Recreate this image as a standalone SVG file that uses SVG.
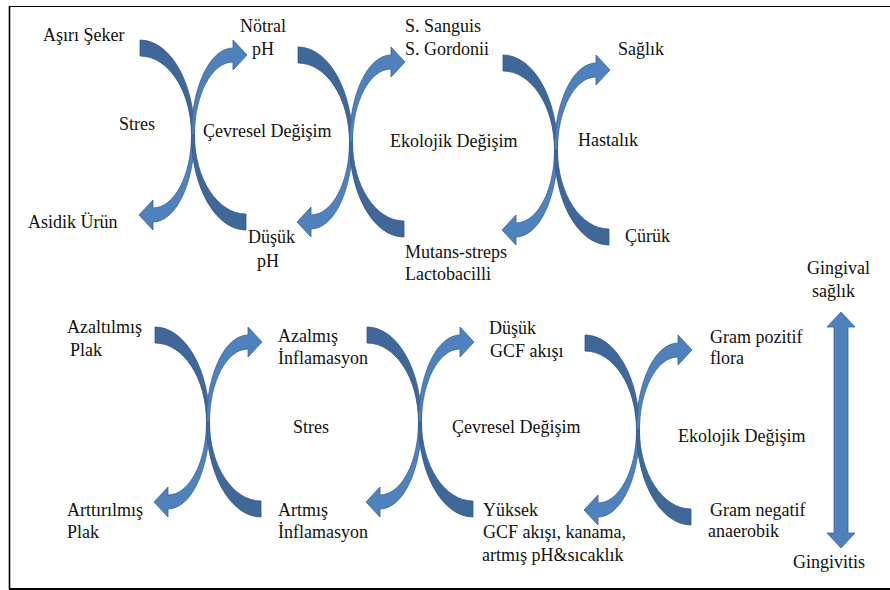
<svg xmlns="http://www.w3.org/2000/svg" xmlns:xlink="http://www.w3.org/1999/xlink" width="890" height="590" viewBox="0 0 890 590">
<style>
text{font-family:'Liberation Serif','DejaVu Serif',serif;font-size:18px;fill:#111}
.dk{fill:#3f6899;stroke:#36598a;stroke-width:0.8}
.lt{fill:#4f81bd;stroke:#3a6295;stroke-width:0.8}
.frame{stroke:#000;fill:none}
</style>
<defs>
<g id="half">
<path class="dk" d="M -53,-95 C -22.9,-95 1.5,-52.5 1.5,0 L -1.5,0 C -1.5,-43.6 -24.6,-79 -53,-79 Z"/>
<path class="lt" d="M 1.5,0 C 1.5,48 -17.1,87 -40,87 L -40,95 L -54,80 L -40,65 L -40,73 C -18.7,73 -1.5,40.3 -1.5,0 Z"/>
</g>
<g id="cross">
<use xlink:href="#half"/>
<use xlink:href="#half" transform="rotate(180)"/>
</g>
</defs>
<rect width="890" height="590" fill="#fff"/>
<g id="frame">
<line class="frame" x1="9" y1="6.5" x2="890" y2="6.5" stroke-width="1.2"/>
<line class="frame" x1="9.5" y1="6" x2="9.5" y2="590" stroke-width="1.6"/>
<line class="frame" x1="9" y1="589" x2="890" y2="589" stroke-width="2"/>
</g>
<g id="connectors">
<use xlink:href="#cross" transform="translate(193,135)"/>
<use xlink:href="#cross" transform="translate(351,142)"/>
<use xlink:href="#cross" transform="translate(556,150)"/>
<use xlink:href="#cross" transform="translate(208,422)"/>
<use xlink:href="#cross" transform="translate(420,422)"/>
<use xlink:href="#cross" transform="translate(638,430)"/>
<path id="double-arrow" class="lt" d="M 841,312 L 855,327 L 848,327 L 848,533 L 855,533 L 841,548 L 827,533 L 834,533 L 834,327 L 827,327 Z"/>
</g>
<g font-family="Liberation Serif, serif">
<g id="n-asiri-seker"><text x="43" y="41">Aşırı Şeker</text></g>
<g id="n-notral-ph"><text x="240" y="32">Nötral</text><text x="252" y="55">pH</text></g>
<g id="n-sanguis"><text x="405" y="32">S. Sanguis</text><text x="405" y="55">S. Gordonii</text></g>
<g id="n-saglik"><text x="618" y="55">Sağlık</text></g>
<g id="n-stres-1"><text x="119" y="130">Stres</text></g>
<g id="n-cevresel-1"><text x="203" y="137">Çevresel Değişim</text></g>
<g id="n-ekolojik-1"><text x="390" y="147">Ekolojik Değişim</text></g>
<g id="n-hastalik"><text x="578" y="146">Hastalık</text></g>
<g id="n-asidik"><text x="28" y="228">Asidik Ürün</text></g>
<g id="n-dusuk-ph"><text x="248" y="243">Düşük</text><text x="257" y="267">pH</text></g>
<g id="n-mutans"><text x="405" y="258">Mutans-streps</text><text x="405" y="280">Lactobacilli</text></g>
<g id="n-curuk"><text x="625" y="242">Çürük</text></g>
<g id="n-gingival"><text x="807" y="274">Gingival</text><text x="812" y="297">sağlık</text></g>
<g id="n-azaltilmis"><text x="67" y="333">Azaltılmış</text><text x="70" y="356">Plak</text></g>
<g id="n-azalmis"><text x="278" y="342">Azalmış</text><text x="278" y="364">İnflamasyon</text></g>
<g id="n-stres-2"><text x="293" y="433">Stres</text></g>
<g id="n-arttirilmis"><text x="67" y="516">Arttırılmış</text><text x="67" y="538">Plak</text></g>
<g id="n-artmis"><text x="278" y="516">Artmış</text><text x="278" y="538">İnflamasyon</text></g>
<g id="n-dusuk-gcf"><text x="489" y="334">Düşük</text><text x="490" y="357">GCF akışı</text></g>
<g id="n-cevresel-2"><text x="452" y="433">Çevresel Değişim</text></g>
<g id="n-yuksek"><text x="483" y="516">Yüksek</text><text x="483" y="538">GCF akışı, kanama,</text><text x="482" y="561">artmış pH&amp;sıcaklık</text></g>
<g id="n-gram-pozitif"><text x="710" y="343">Gram pozitif</text><text x="710" y="364">flora</text></g>
<g id="n-ekolojik-2"><text x="678" y="442">Ekolojik Değişim</text></g>
<g id="n-gram-negatif"><text x="710" y="516">Gram negatif</text><text x="708" y="537">anaerobik</text></g>
<g id="n-gingivitis"><text x="793" y="568">Gingivitis</text></g>
</g>
</svg>
